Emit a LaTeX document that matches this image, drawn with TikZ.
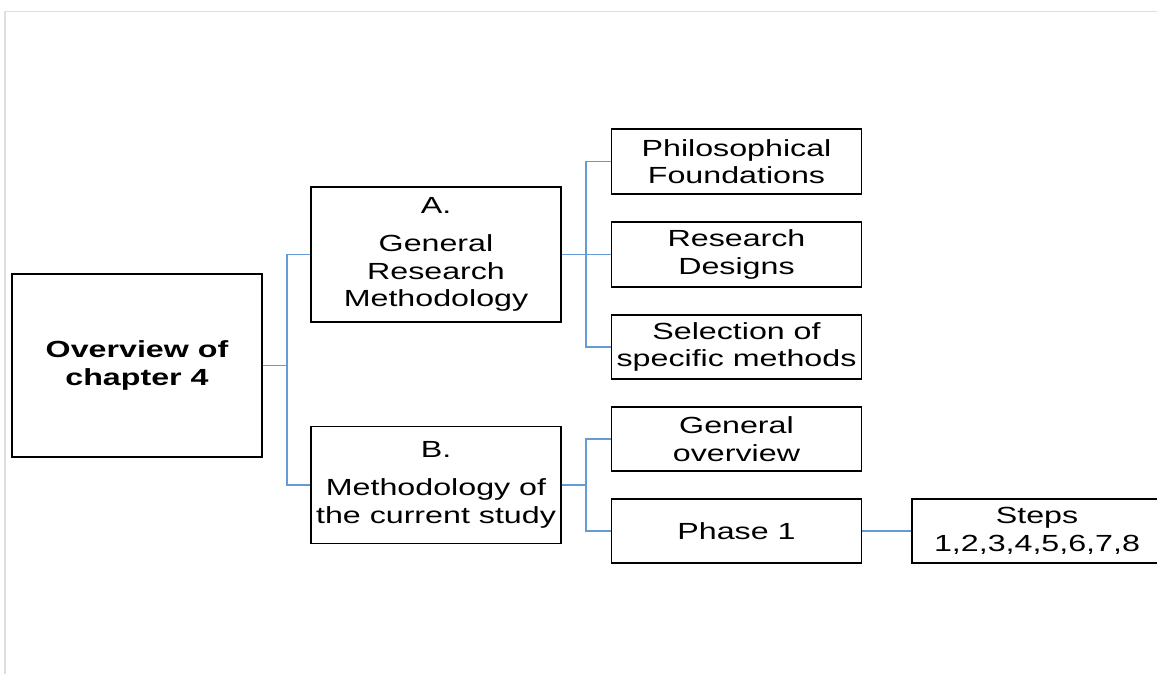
\documentclass[tikz,border=0pt]{standalone}
\usepackage{fontspec}
\setmainfont{Liberation Sans}[FakeStretch=1.38]
\definecolor{linkblue}{RGB}{100,155,212}
\definecolor{framegray}{RGB}{222,222,222}
\begin{document}
\begin{tikzpicture}[x=0.75pt,y=-0.75pt,
  box/.style={draw=black,line width=1.4pt,rectangle,minimum width=187.5pt,
    align=center,inner sep=0pt,font=\fontsize{17.5}{20.5}\selectfont},
  link/.style={draw=linkblue,line width=1.4pt},
  frame/.style={draw=framegray,line width=1.2pt}]
\clip (0,0) rectangle (1157,674);
\useasboundingbox (0,0) rectangle (1157,674);
\fill[white] (0,0) rectangle (1157,674);
% outer frame
\draw[frame] (1160,11.5) -- (5,11.5) -- (5,680);
% nodes
\node[box,minimum height=137.25pt,font=\fontsize{17.5}{21}\selectfont\bfseries] (ov) at (137,365.5) {Overview of\\chapter 4};
\node[box,minimum height=101.25pt] (A) at (436,254.5) {A.\\[8pt]General\\Research\\Methodology};
\node[box,minimum height=87.75pt] (B) at (436,485) {B.\\[8pt]Methodology of\\the current study};
\node[box,minimum height=48.75pt] (p1) at (736.5,161.5) {Philosophical\\Foundations};
\node[box,minimum height=48.75pt] (p2) at (736.5,254.5) {Research\\Designs};
\node[box,minimum height=48pt] (p3) at (736.5,347) {Selection of\\specific methods};
\node[box,minimum height=48pt] (g) at (736.5,439) {General\\overview};
\node[box,minimum height=48pt] (ph) at (736.5,531) {Phase 1};
\node[box,minimum height=48pt] (st) at (1037,531) {Steps\\1,2,3,4,5,6,7,8};
% junctions
\coordinate (j1) at (287,365.5);
\coordinate (j2) at (586,254.5);
\coordinate (j3) at (586,485);
% connectors
\draw[link] (ov.east) -- (j1);
\draw[link] (j1) |- (A.west);
\draw[link] (j1) |- (B.west);
\draw[link] (A.east) -- (j2);
\draw[link] (j2) |- (p1.west);
\draw[link] (j2) |- (p2.west);
\draw[link] (j2) |- (p3.west);
\draw[link] (B.east) -- (j3);
\draw[link] (j3) |- (g.west);
\draw[link] (j3) |- (ph.west);
\draw[link] (ph.east) -- (st.west);
\end{tikzpicture}
\end{document}
